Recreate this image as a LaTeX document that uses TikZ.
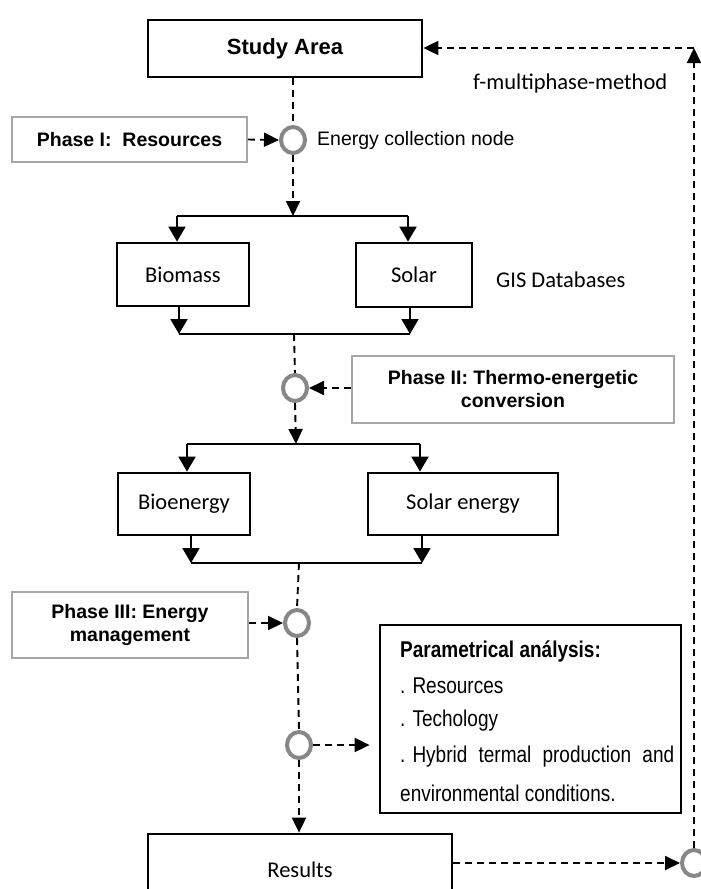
\documentclass[tikz,border=0pt]{standalone}
\usepackage{fontspec}
\usepackage{graphicx}
\setmainfont{Liberation Sans}
\newfontfamily\calfont{Carlito}
\usetikzlibrary{arrows.meta,shapes.geometric}
\newcommand{\vst}[1]{\scalebox{1}[1.2]{#1}}
\begin{document}
\begin{tikzpicture}[x=1pt,y=-1pt,
  blk/.style={draw=black,line width=2.8pt,fill=white,inner sep=0pt},
  gry/.style={draw=black!35,line width=1.6pt,fill=white,inner sep=0pt,align=center,font=\fontsize{19.5}{23}\selectfont\bfseries},
  ring/.style={ellipse,draw=black!47,line width=4pt,fill=white,minimum width=24pt,minimum height=26pt,inner sep=0pt},
  dline/.style={line width=1.9pt,dash pattern=on 7pt off 5pt},
  sline/.style={line width=2pt},
  dtip/.style={-{Triangle[length=15pt,width=14pt]}},
  stip/.style={-{Triangle[length=15pt,width=17pt]}},
  cal/.style={font=\calfont\fontsize{22.5}{26}\selectfont},
  ari/.style={font=\fontsize{19.5}{23}\selectfont},
  ptxt/.style={anchor=west,inner sep=0pt,font=\fontsize{19}{23}\selectfont},
]
\useasboundingbox (0,0) rectangle (701,889);
\clip (0,0) rectangle (701,889);
\fill[white] (0,0) rectangle (701,889);

% nodes
\node[blk,minimum width=274pt,minimum height=57pt,font=\fontsize{22}{26}\selectfont\bfseries] (sa) at (285,48.5) {Study Area};
\node[gry,minimum width=235pt,minimum height=45pt] (p1) at (129.5,139.5) {Phase I:\ \ Resources};
\node[ring] (c1) at (293,140) {};
\node[ari,anchor=west,inner sep=0pt] (ecn) at (317,140) {Energy collection node};
\node[cal,anchor=west,inner sep=0pt] (fm) at (473,83) {f-multiphase-method};

\node[blk,minimum width=132pt,minimum height=63pt,cal] (bm) at (183,274.5) {Biomass};
\node[blk,minimum width=116pt,minimum height=64pt,cal] (so) at (414,275) {Solar};
\node[cal,anchor=west,inner sep=0pt] (gis) at (496,280) {GIS Databases};

\coordinate (j1) at (293,216);
\coordinate (j1a) at (177,216);
\coordinate (j1b) at (408,216);
\coordinate (k1a) at (179,334);
\coordinate (k1b) at (410,334);
\coordinate (k1) at (294,334);

\node[gry,minimum width=322pt,minimum height=67pt] (p2) at (513,389.5) {Phase II: Thermo-energetic\\conversion};
\node[ring] (c2) at (295,388) {};

\coordinate (j2) at (296,444);
\coordinate (j2a) at (187,444);
\coordinate (j2b) at (420,444);

\node[blk,minimum width=132pt,minimum height=62pt,cal] (be) at (184,504) {Bioenergy};
\node[blk,minimum width=190pt,minimum height=62pt,cal] (se) at (463,504) {Solar energy};

\coordinate (k2a) at (191,563);
\coordinate (k2b) at (422,563);
\coordinate (k2) at (299,563);

\node[gry,minimum width=236pt,minimum height=66pt] (p3) at (130,625) {Phase III: Energy\\management};
\node[ring] (c3) at (297,623) {};
\node[ring] (c4) at (299,745) {};

\node[blk,minimum width=301pt,minimum height=188pt] (pa) at (530.5,719) {};
\node[ptxt,font=\fontsize{19}{23}\selectfont\bfseries] (pa1) at (400,651) {\vst{Parametrical análysis:}};
\node[ptxt] (pa2) at (400,686) {\vst{. Resources}};
\node[ptxt] (pa3) at (400,721) {\vst{. Techology}};
\node[ptxt] (pa4) at (400,757) {\vst{\makebox[274pt][s]{\mbox{. Hybrid} termal production and}}};
\node[ptxt] (pa5) at (400,793) {\vst{environmental conditions.}};

\node[blk,minimum width=304pt,minimum height=72pt,cal] (re) at (300,870) {Results};
\node[ring] (c5) at (694,863) {};
\coordinate (tr) at (694,48);

% connectors
\draw[dline] (c1 |- sa.south) -- (c1.north);
\draw[dline,dtip] (p1.east) -- (c1.west);
\draw[dline,dtip] (c1.south) -- (j1);
\draw[sline] (j1a) -- (j1b);
\draw[sline,stip] (j1a) -- (j1a |- bm.north);
\draw[sline,stip] (j1b) -- (j1b |- so.north);
\draw[sline,stip] (k1a |- bm.south) -- (k1a);
\draw[sline,stip] (k1b |- so.south) -- (k1b);
\draw[sline] (k1a) -- (k1b);
\draw[dline] (k1) -- (c2.north);
\draw[dline,dtip] (p2.west |- c2) -- (c2.east);
\draw[dline,dtip] (c2.south) -- (j2);
\draw[sline] (j2a) -- (j2b);
\draw[sline,stip] (j2a) -- (j2a |- be.north);
\draw[sline,stip] (j2b) -- (j2b |- se.north);
\draw[sline,stip] (k2a |- be.south) -- (k2a);
\draw[sline,stip] (k2b |- se.south) -- (k2b);
\draw[sline] (k2a) -- (k2b);
\draw[dline] (k2) -- (c3.north);
\draw[dline,dtip] (p3.east |- c3) -- (c3.west);
\draw[dline] (c3.south) -- (c4.north);
\draw[dline,dtip,shorten >=9pt] (c4.east) -- (pa.west |- c4);
\draw[dline,dtip] (c4.south) -- (c4 |- re.north);
\draw[dline,dtip] (re.east |- c5) -- (c5.west);
\draw[dline,dtip] (c5.north) -- (tr);
\draw[dline,dtip] (tr) -- (sa.east |- tr);
\end{tikzpicture}
\end{document}
